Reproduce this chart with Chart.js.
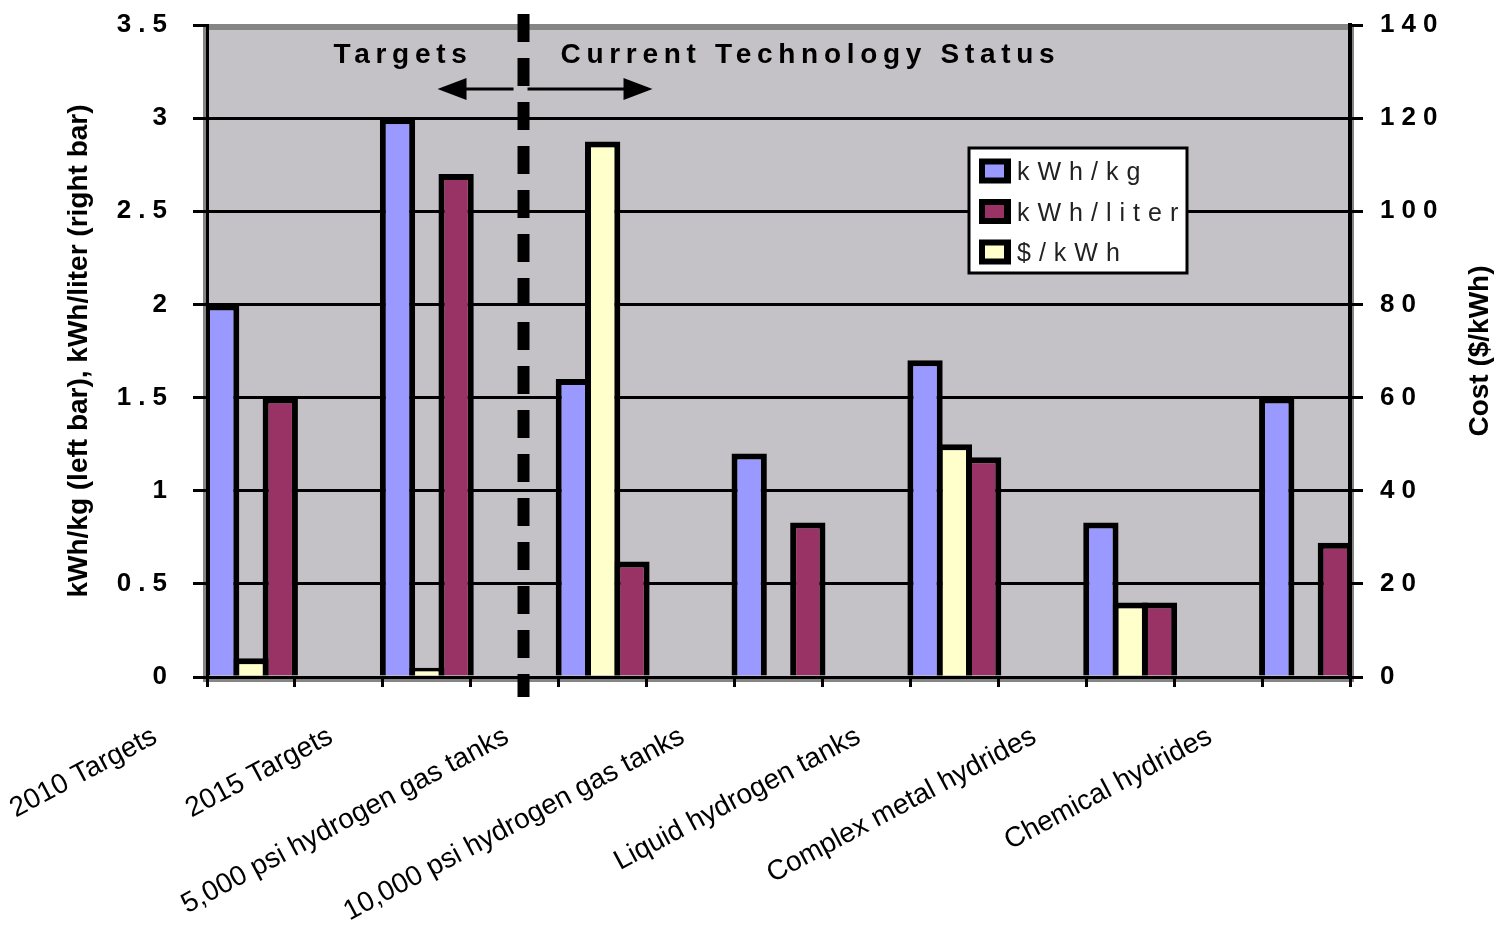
<!DOCTYPE html>
<html>
<head>
<meta charset="utf-8">
<title>Hydrogen storage: targets and current technology status</title>
<script src="https://cdn.jsdelivr.net/npm/chart.js@4.4.1/dist/chart.umd.min.js"></script>
<style>
    html, body { margin: 0; padding: 0; background: #fff; }
    canvas { display: block; }
</style>
</head>
<body>
<canvas id="storageChart" width="1499" height="944"></canvas>
<script>
// Storage systems (targets first, then current technologies)
const categories = [
    '2010 Targets',
    '2015 Targets',
    '5,000 psi hydrogen gas tanks',
    '10,000 psi hydrogen gas tanks',
    'Liquid hydrogen tanks',
    'Complex metal hydrides',
    'Chemical hydrides'
];

// Left axis values
const kwhPerKg = [2.0, 3.0, 1.6, 1.2, 1.7, 0.83, 1.5];
const kwhPerLiter = [1.5, 2.7, 0.62, 0.83, 1.18, 0.4, 0.72];

// Right axis values (no cost figure for two of the systems)
const costPerKwh = [4, 2, 115, null, 50, 16, null];

const FONT = "'Liberation Sans', Arial, sans-serif";

const toPoints = values => values.map((v, i) => ({ x: i, y: v }));

// Plot background, dashed divider, captions and the boxed legend
const storageDecor = {
    id: 'storageDecor',
    beforeDraw(chart) {
        const { ctx, chartArea: a } = chart;
        ctx.save();
        ctx.fillStyle = '#c4c2c6';
        ctx.fillRect(a.left, a.top, a.right - a.left, a.bottom - a.top);
        // grey frame round the plot area
        ctx.fillStyle = '#858585';
        ctx.fillRect(a.left - 4, a.top - 1, a.right - a.left + 8, 6);
        ctx.fillRect(a.left - 4, a.top - 1, 4, a.bottom - a.top + 6);
        ctx.fillRect(a.left - 4, a.bottom, a.right - a.left + 8, 5);
        ctx.fillRect(a.right, a.top - 1, 4, a.bottom - a.top + 6);
        ctx.restore();
    },
    afterDatasetsDraw(chart) {
        // y tick labels are drawn after the bars (ticks.z = 1), spaced out
        chart.ctx.letterSpacing = '7px';
    },
    afterDraw(chart) {
        const { ctx, chartArea: a, scales } = chart;
        ctx.letterSpacing = '0px';
        const xd = scales.x.getPixelForValue(1.55);

        ctx.save();
        // dashed divider between targets and current status
        ctx.strokeStyle = '#000';
        ctx.lineWidth = 12;
        ctx.setLineDash([28, 16]);
        ctx.beginPath();
        ctx.moveTo(xd, a.top - 11);
        ctx.lineTo(xd, a.bottom + 20);
        ctx.stroke();
        ctx.setLineDash([]);

        // arrows
        const ay = a.top + 64;
        ctx.lineWidth = 3;
        ctx.beginPath();
        ctx.moveTo(xd - 10, ay);
        ctx.lineTo(xd - 80, ay);
        ctx.moveTo(xd + 4, ay);
        ctx.lineTo(xd + 124, ay);
        ctx.stroke();
        ctx.fillStyle = '#000';
        ctx.beginPath();
        ctx.moveTo(xd - 86, ay);
        ctx.lineTo(xd - 57, ay - 11);
        ctx.lineTo(xd - 57, ay + 11);
        ctx.closePath();
        ctx.moveTo(xd + 129, ay);
        ctx.lineTo(xd + 100, ay - 11);
        ctx.lineTo(xd + 100, ay + 11);
        ctx.closePath();
        ctx.fill();

        // captions
        ctx.font = 'bold 28px ' + FONT;
        ctx.letterSpacing = '5.7px';
        ctx.textAlign = 'left';
        ctx.textBaseline = 'alphabetic';
        ctx.fillText('Targets', xd - 190, a.top + 38);
        ctx.fillText('Current Technology Status', xd + 37, a.top + 38);

        // legend box
        const lx = a.right - 381, ly = a.top + 123;
        ctx.letterSpacing = '0px';
        ctx.fillStyle = '#fff';
        ctx.fillRect(lx, ly, 218, 125);
        ctx.strokeStyle = '#000';
        ctx.lineWidth = 3;
        ctx.strokeRect(lx, ly, 218, 125);

        ctx.font = '25px ' + FONT;
        ctx.letterSpacing = '8px';
        const order = [0, 2, 1];
        order.forEach((di, row) => {
            const ds = chart.data.datasets[di];
            const cy = ly + 23 + row * 40.5;
            ctx.fillStyle = '#000';
            ctx.fillRect(lx + 10, cy - 12.5, 32, 25);
            ctx.fillStyle = ds.backgroundColor;
            ctx.fillRect(lx + 16, cy - 6.5, 19, 13);
            ctx.fillStyle = '#222';
            ctx.fillText(ds.label, lx + 48, cy + 9);
        });

        // right axis title, reading upwards
        ctx.letterSpacing = '0px';
        ctx.translate(a.right + 130, (a.top + a.bottom) / 2);
        ctx.rotate(-Math.PI / 2);
        ctx.font = 'bold 28px ' + FONT;
        ctx.fillStyle = '#000';
        ctx.textAlign = 'center';
        ctx.textBaseline = 'middle';
        ctx.fillText('Cost ($/kWh)', 0, 0);
        ctx.restore();
    }
};

// fixed axis widths, no extra room above or below for tick labels
const fixWidth = w => axis => {
    axis.width = w;
    axis.paddingTop = 0;
    axis.paddingBottom = 0;
};

const ctx = document.getElementById('storageChart').getContext('2d');

const storageChart = new Chart(ctx, {
    type: 'bar',
    data: {
        datasets: [
            {
                label: 'kWh/kg',
                data: toPoints(kwhPerKg),
                backgroundColor: '#9999ff',
                yAxisID: 'y'
            },
            {
                label: '$/kWh',
                data: toPoints(costPerKwh),
                backgroundColor: '#ffffcc',
                yAxisID: 'y1'
            },
            {
                label: 'kWh/liter',
                data: toPoints(kwhPerLiter),
                backgroundColor: '#993366',
                yAxisID: 'y'
            }
        ]
    },
    options: {
        responsive: false,
        animation: false,
        layout: { padding: { top: 25, left: 0, right: 0, bottom: 0 } },
        datasets: {
            bar: {
                borderColor: '#000',
                borderWidth: 6,
                inflateAmount: 0,
                categoryPercentage: 1,
                barPercentage: 1.205 // neighbours share one outline
            }
        },
        plugins: {
            legend: { display: false },
            tooltip: { enabled: false }
        },
        scales: {
            x: {
                type: 'linear',
                min: -0.25,
                max: 6.25,
                offset: false,
                afterBuildTicks: axis => {
                    // a tick at each edge of every group and gap
                    const ticks = [];
                    for (let v = -0.25; v <= 6.25; v += 0.5) ticks.push({ value: v });
                    axis.ticks = ticks;
                },
                afterFit: axis => {
                    axis.height = 267;
                    axis.paddingLeft = 0;
                    axis.paddingRight = 0;
                },
                grid: { offset: false, drawOnChartArea: false, color: '#000', lineWidth: 3, tickLength: 10 },
                border: { color: '#000', width: 3 },
                ticks: {
                    autoSkip: false,
                    minRotation: 28,
                    maxRotation: 28,
                    padding: 33,
                    labelOffset: -52,
                    color: '#000',
                    font: { family: FONT, size: 28 },
                    callback: (value, index) => index % 2 === 0 ? categories[index / 2] : ''
                }
            },
            y: {
                position: 'left',
                min: 0,
                max: 3.5,
                afterFit: fixWidth(207),
                grid: {
                    color: c => (c.tick && c.tick.value === 3.5) ? 'rgba(0,0,0,0)' : '#000',
                    tickColor: '#000',
                    lineWidth: 3,
                    tickLength: 14
                },
                border: { color: '#000', width: 3 },
                ticks: {
                    stepSize: 0.5,
                    padding: 19,
                    z: 1,
                    color: '#000',
                    font: { family: FONT, size: 26, weight: 'bold' },
                    callback: value => String(value)
                },
                title: {
                    display: true,
                    text: 'kWh/kg (left bar), kWh/liter (right bar)',
                    color: '#000',
                    font: { family: FONT, size: 28, weight: 'bold' },
                    padding: { top: 62, bottom: 0 }
                }
            },
            y1: {
                position: 'right',
                min: 0,
                max: 140,
                afterFit: fixWidth(149),
                grid: { drawOnChartArea: false, color: '#000', lineWidth: 3, tickLength: 13 },
                border: { color: '#000', width: 4 },
                ticks: {
                    stepSize: 20,
                    padding: 17,
                    z: 1,
                    color: '#000',
                    font: { family: FONT, size: 26, weight: 'bold' },
                    callback: value => String(value)
                }
            }
        }
    },
    plugins: [storageDecor]
});
</script>
</body>
</html>
